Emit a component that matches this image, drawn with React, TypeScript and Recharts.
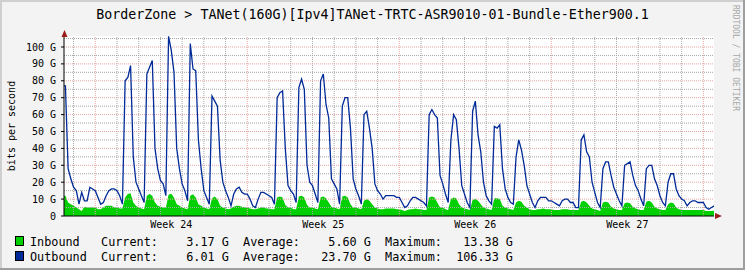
import React from 'react';
import { ComposedChart, Area, Line, XAxis, YAxis, ReferenceLine, CartesianGrid } from 'recharts';

const TITLE = 'BorderZone > TANet(160G)[Ipv4]TANet-TRTC-ASR9010-01-Bundle-Ether900.1';
const Y_LABEL = 'bits per second';
const WATERMARK = 'RRDTOOL / TOBI OETIKER';

// time axis: days relative to start of "Week 24" boundary, samples every 3 hours
const START_DAY = -1.5;
const STEP_DAYS = 0.125;

// Outbound, Gbit/s
const outbound = [
  77, 77, 28, 22,
  17, 15, 7, 14, 9, 9, 17, 16,
  15, 11, 7, 8, 12, 15, 16, 16,
  15, 12, 7, 80, 82, 89, 35, 20,
  16, 12, 8, 84, 88, 92, 40, 28,
  21, 19, 12, 106.3, 98, 85, 40, 28,
  19, 15, 9, 102, 87, 86, 45, 28,
  15, 11, 7, 71, 68, 65, 33, 20,
  15, 11, 6, 13, 16, 17, 14, 13,
  13, 10, 6, 5, 10, 14, 14, 13,
  12, 11, 7, 70, 73, 74, 40, 18,
  15, 13, 8, 76, 81, 75, 30, 20,
  18, 13, 8, 80, 84, 66, 58, 22,
  19, 16, 7, 65, 70, 70, 52, 22,
  16, 12, 7, 60, 62, 52, 40, 19,
  15, 13, 10, 12, 12, 12, 12, 11,
  11, 8, 5, 6, 9, 11, 11, 10,
  9, 8, 6, 60, 63, 60, 58, 24,
  19, 13, 8, 45, 60, 57, 40, 18,
  13, 8, 5, 62, 68, 48, 38, 20,
  12, 9, 7, 53, 52, 54, 28, 16,
  11, 8, 7, 35, 45, 39, 30, 18,
  13, 8, 5, 9, 11, 11, 11, 9,
  9, 8, 7, 6, 9, 10, 10, 8,
  8, 5, 5, 45, 48, 38, 35, 20,
  14, 8, 5, 28, 32, 32, 24, 17,
  13, 9, 6, 30, 31, 32, 24, 18,
  15, 10, 6, 28, 30, 30, 22, 18,
  12, 8, 6, 20, 25, 25, 16, 12,
  10, 9, 6, 8, 9, 9, 8, 8,
  8, 5, 4, 5, 6.01,
];

// Inbound, Gbit/s
const inbound = [
  12, 12, 8, 7,
  6, 5, 4, 3, 5.5, 5, 5, 5,
  5, 4, 4, 5, 6, 6, 6, 5,
  5, 4.5, 4.5, 11, 13, 13.4, 8, 6,
  5, 4.5, 4, 12, 13, 12, 8, 6,
  5.5, 5, 5, 12.5, 13.2, 11, 7, 6,
  5, 4.5, 4, 12, 12.8, 11, 7, 6,
  5, 4.5, 4, 10.5, 11.5, 10, 6, 5,
  4.5, 4, 4.5, 5.5, 6, 6, 5.5, 5,
  5, 4.5, 4, 4, 4.5, 5, 5, 4.5,
  4.5, 4, 4, 11, 11.5, 11, 6.5, 5,
  5, 4, 4, 11.5, 12, 11, 6.5, 5,
  5, 4.5, 4, 11, 11.5, 10.5, 8, 5.5,
  5, 4.5, 4, 11.5, 12, 11, 7, 5,
  5, 4.5, 4, 9, 10, 9, 7, 5,
  4.5, 4, 4, 4.5, 4.5, 4.5, 4.5, 4,
  4, 3.5, 3, 3.5, 4, 4, 4.5, 4,
  4, 3.5, 3.5, 11, 11.5, 11, 8, 5,
  5, 4, 3.5, 10, 11, 10.5, 7, 5,
  4.5, 4, 3.5, 9.5, 10, 9, 7, 5,
  4.5, 4, 3.5, 10.5, 10.5, 10, 6, 5,
  4.5, 4, 3.5, 8, 9, 8.5, 6, 5,
  4, 3.5, 3.5, 4, 4, 4.5, 4, 4,
  4, 3.5, 3.5, 3.5, 4, 4, 4, 3.5,
  3.5, 3.5, 3.5, 8.5, 9, 8, 6, 4.5,
  4, 3.5, 3, 8, 8.5, 8, 5.5, 4.5,
  4, 3.5, 3.5, 7.5, 8, 7.5, 5.5, 4.5,
  4, 3.5, 3.5, 8.5, 9, 8, 5.5, 4.5,
  4, 3.5, 3.5, 7, 8, 7.5, 5, 4,
  3.5, 3.5, 3.5, 3.5, 3.5, 3.5, 3.5, 3.5,
  3.5, 3, 3, 3, 3.17,
];

const weekLabels = ['Week 24', 'Week 25', 'Week 26', 'Week 27'];
const weekLabelDays = [3.5, 10.5, 17.5, 24.5];
const weekBoundaryDays = [0, 7, 14, 21, 28];
const dayBoundaryDays = [-1, 1, 2, 3, 4, 5, 6, 8, 9, 10, 11, 12, 13, 15, 16, 17, 18, 19, 20, 22, 23, 24, 25, 26, 27];
const yTicks = [0, 10, 20, 30, 40, 50, 60, 70, 80, 90, 100];
const yMinorTicks = [5, 15, 25, 35, 45, 55, 65, 75, 85, 95, 105];
const X_DOMAIN = [-1.44, 28.49];
const Y_DOMAIN = [0, 106.5];

const seriesNames = ['Inbound', 'Outbound'];
const seriesColors = ['#00CF00', '#002A97'];
const currentVals = [3.17, 6.01];
const averageVals = [5.6, 23.7];
const maximumVals = [13.38, 106.33];

const data = outbound.map((o, i) => ({
  t: START_DAY + i * STEP_DAYS,
  out: o,
  inb: inbound[i],
}));

const MONO = 'DejaVu Sans Mono, monospace';
const fmt = (v: number) => v.toFixed(2).padStart(8);
const MINOR = '#A6A6A6';
const MAJOR = '#E8A4A4';

export default function App() {
  return (
    <div style={{ position: 'absolute', left: 0, top: 0, width: 745, height: 270, background: '#F3F3F3', overflow: 'hidden' }}>
      <ComposedChart
        width={745}
        height={270}
        data={data}
        margin={{ top: 36, right: 31, bottom: 34, left: 8 }}
      >
        <CartesianGrid horizontal={false} vertical={false} fill="#FFFFFF" stroke="none" />
        {yMinorTicks.map((v) => (
          <ReferenceLine key={'ym' + v} y={v} stroke={MINOR} strokeDasharray="1 1" ifOverflow="extendDomain" />
        ))}
        {dayBoundaryDays.map((d) => (
          <ReferenceLine key={'xd' + d} x={d} stroke={MINOR} strokeDasharray="1 1" />
        ))}
        {yTicks.filter((v) => v > 0).map((v) => (
          <ReferenceLine key={'yM' + v} y={v} stroke={MAJOR} strokeDasharray="1 1" />
        ))}
        {weekBoundaryDays.map((d) => (
          <ReferenceLine key={'xw' + d} x={d} stroke={MAJOR} strokeDasharray="1 1" />
        ))}
        <XAxis
          type="number"
          dataKey="t"
          domain={X_DOMAIN}
          allowDataOverflow
          ticks={weekLabelDays}
          interval={0}
          tickFormatter={(v: number) => weekLabels[weekLabelDays.indexOf(v)] ?? ''}
          tickLine={false}
          tickSize={0}
          axisLine={{ stroke: '#000' }}
          tick={{ fontSize: 10, fontFamily: MONO, fill: '#000' }}
          tickMargin={5}
          height={20}
        />
        <YAxis
          type="number"
          domain={Y_DOMAIN}
          allowDataOverflow
          ticks={yTicks}
          interval={0}
          tickFormatter={(v: number) => (v === 0 ? '0' : `${v} G`)}
          width={56}
          axisLine={{ stroke: '#000' }}
          tickLine={{ stroke: '#000' }}
          tickSize={3}
          tickMargin={5}
          tick={{ fontSize: 10, fontFamily: MONO, fill: '#000' }}
        />
        <Area
          type="linear"
          dataKey="inb"
          fill={seriesColors[0]}
          fillOpacity={1}
          stroke="none"
          isAnimationActive={false}
        />
        <Line
          type="linear"
          dataKey="out"
          stroke={seriesColors[1]}
          strokeWidth={1.3}
          dot={false}
          isAnimationActive={false}
        />
      </ComposedChart>
      <svg width={745} height={270} style={{ position: 'absolute', left: 0, top: 0, pointerEvents: 'none' }}>
        <rect x={0} y={0} width={745} height={2} fill="#CFCFCF" />
        <rect x={0} y={0} width={2} height={270} fill="#CFCFCF" />
        <rect x={743} y={0} width={2} height={270} fill="#9E9E9E" />
        <rect x={0} y={268} width={745} height={2} fill="#9E9E9E" />
        <text x={372.5} y={19} textAnchor="middle" fontFamily={MONO} fontSize={13.3} fill="#000">{TITLE}</text>
        <text transform="translate(14.5,126) rotate(-90)" textAnchor="middle" fontFamily={MONO} fontSize={10} fill="#000">{Y_LABEL}</text>
        <text transform="translate(732.5,5) rotate(90)" textAnchor="start" fontFamily={MONO} fontSize={8} fill="#A8A8A8">{WATERMARK}</text>
        <path d="M61.5,37 L64.5,30 L67.5,37 Z" fill="#9C1C1C" />
        <path d="M715,213 L722,216 L715,219 Z" fill="#9C1C1C" />
        {seriesNames.map((name, i) => (
          <g key={name}>
            <rect x={15.5} y={236.5 + i * 15} width={8} height={9} fill={seriesColors[i]} stroke="#000" strokeWidth={1} />
            <text x={30} y={245.5 + i * 15} fontFamily={MONO} fontSize={11.8} fill="#000" style={{ whiteSpace: 'pre' }}>
              {`${name.padEnd(10)}Current:${fmt(currentVals[i])} G  Average:${fmt(averageVals[i])} G  Maximum:${fmt(maximumVals[i])} G`}
            </text>
          </g>
        ))}
      </svg>
    </div>
  );
}
